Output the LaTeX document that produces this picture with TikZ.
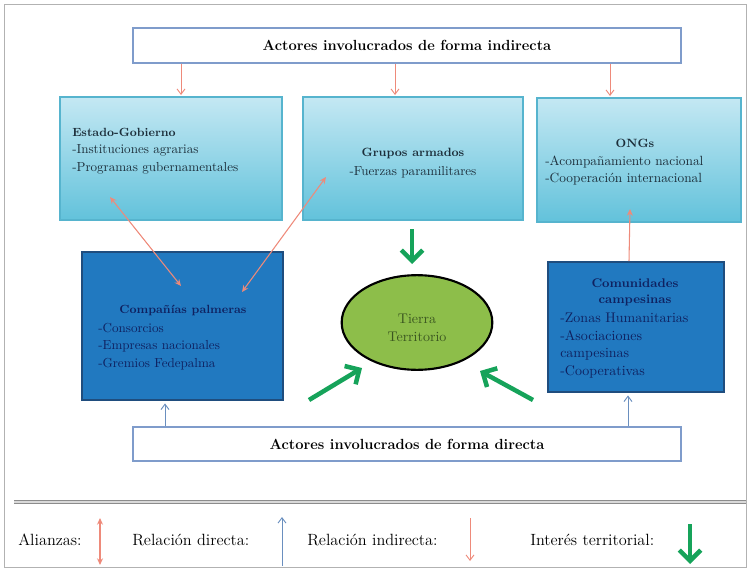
\documentclass[tikz,border=0pt]{standalone}
\usetikzlibrary{arrows.meta,shapes.geometric}
\definecolor{salmon}{HTML}{EE8A7A}
\definecolor{dirblue}{HTML}{6A8FBF}
\definecolor{tgreen}{HTML}{16A35A}
\definecolor{lbtop}{HTML}{C4E8F3}
\definecolor{lbbot}{HTML}{62C2DB}
\definecolor{lbline}{HTML}{56B4CE}
\definecolor{dbfill}{HTML}{2179C0}
\definecolor{dbline}{HTML}{1F4D7E}
\definecolor{navy}{HTML}{0F2160}
\definecolor{dteal}{HTML}{1C2E3A}
\definecolor{olive}{HTML}{8DBE4A}
\definecolor{dolive}{HTML}{3A5520}
\definecolor{topline}{HTML}{7F9CCB}
\begin{document}
\begin{tikzpicture}[x=0.75pt,y=-0.75pt,
  frame/.style={draw=black!30,line width=0.6pt},
  actorbox/.style={draw=topline,line width=1pt,fill=white,font=\bfseries\fontsize{11}{13}\selectfont},
  lightbox/.style={draw=lbline,line width=1pt,top color=lbtop,bottom color=lbbot},
  darkbox/.style={draw=dbline,line width=1.2pt,fill=dbfill},
  ltext/.style={text=dteal,font=\fontsize{9.8}{13}\selectfont,inner sep=0pt},
  dtext/.style={text=navy,font=\fontsize{9.8}{13.2}\selectfont,inner sep=0pt},
  indarrow/.style={draw=salmon,line width=0.7pt,-{Straight Barb[length=4pt,width=6pt]}},
  alliance/.style={draw=salmon,line width=0.8pt,{Stealth[length=5pt,width=4.5pt]}-{Stealth[length=5pt,width=4.5pt]}},
  allianceone/.style={draw=salmon,line width=0.8pt,-{Stealth[length=5pt,width=4.5pt]}},
  dirarrow/.style={draw=dirblue,line width=0.7pt,-{Straight Barb[length=4pt,width=6pt]}},
  terrarrow/.style={draw=tgreen,line width=3.4pt,-{Straight Barb[length=8pt,width=16pt]}},
  legtext/.style={font=\fontsize{12.2}{14}\selectfont,anchor=west,inner sep=0pt}
]
\useasboundingbox (0,0) rectangle (750,571);
\draw[frame] (4,4) rectangle (746,567);

% top and bottom actor boxes
\node[actorbox,minimum width=411pt,minimum height=26.25pt] (ind) at (407,45.5) {Actores involucrados de forma indirecta};
\node[actorbox,minimum width=411pt,minimum height=25.5pt] (dir) at (407,444) {Actores involucrados de forma directa};

% light blue boxes
\node[lightbox,minimum width=166.5pt,minimum height=92.25pt] (est) at (171,158.5) {};
\node[lightbox,minimum width=165pt,minimum height=92.25pt] (gru) at (413,158.5) {};
\node[lightbox,minimum width=153pt,minimum height=93pt] (ong) at (639,160) {};

% dark blue boxes
\node[darkbox,minimum width=150.75pt,minimum height=111pt] (pal) at (182.5,326) {};
\node[darkbox,minimum width=132pt,minimum height=97.5pt] (com) at (636,327) {};

% ellipse
\node[ellipse,draw=black,line width=1.6pt,fill=olive,minimum width=113pt,minimum height=71pt] (tie) at (417,322.5) {};
\node[text=dolive,font=\fontsize{10.5}{13.5}\selectfont,align=center,inner sep=0pt] (tieT) at (417,327.5) {Tierra\\Territorio};

% texts
\node[ltext,anchor=west,align=left,font=\fontsize{9.8}{13}\selectfont] (estT) at (72,151) {{\bfseries\fontsize{8.9}{13}\selectfont Estado-Gobierno}\\-Instituciones agrarias\\-Programas gubernamentales};
\node[ltext,anchor=center,align=center,font=\fontsize{9.8}{14.2}\selectfont] (gruT) at (413,163) {{\bfseries\fontsize{9}{14}\selectfont Grupos armados}\\-Fuerzas paramilitares};
\node[ltext,anchor=center,font=\bfseries\fontsize{9}{13}\selectfont] (ongH) at (635,143) {ONGs};
\node[ltext,anchor=west,align=left,font=\fontsize{10}{12.5}\selectfont] (ongT) at (545,170.5) {-Acompañamiento nacional\\-Cooperación internacional};
\node[dtext,anchor=center,font=\bfseries\fontsize{8.9}{12}\selectfont] (palH) at (183,310) {Compañías palmeras};
\node[dtext,anchor=west,align=left] (palT) at (98,346.5) {-Consorcios\\-Empresas nacionales\\-Gremios Fedepalma};
\node[dtext,anchor=center,align=center,font=\bfseries\fontsize{9.4}{12.5}\selectfont] (comH) at (635,292.5) {Comunidades\\campesinas};
\node[dtext,anchor=west,align=left,font=\fontsize{10.5}{13.2}\selectfont] (comT) at (560,345.5) {-Zonas Humanitarias\\-Asociaciones\\campesinas\\-Cooperativas};

% indirect relation arrows
\coordinate (c1) at (181,0);
\coordinate (c2) at (395,0);
\coordinate (c3) at (610,0);
\draw[indarrow] (ind.south -| c1) -- ([yshift=1pt]est.north -| c1);
\draw[indarrow] (ind.south -| c2) -- ([yshift=1pt]gru.north -| c2);
\draw[indarrow] (ind.south -| c3) -- ([yshift=1pt]ong.north -| c3);

% direct relation arrows
\coordinate (d1) at (165,0);
\coordinate (d2) at (628,0);
\draw[dirarrow] (dir.north -| d1) -- ([yshift=-2pt]pal.south -| d1);
\draw[dirarrow] (dir.north -| d2) -- ([yshift=-2pt]com.south -| d2);

% alliances
\coordinate (a1) at (110,197);
\coordinate (a2) at (181,286);
\coordinate (a3) at (242,292);
\coordinate (a4) at (326,177);
\coordinate (a5) at (630,209);
\coordinate (a6) at (629,0);
\draw[alliance] (a1) -- (a2);
\draw[alliance] (a3) -- (a4);
\draw[allianceone] (com.north -| a6) -- (a5);

% territorial interest
\coordinate (g1) at (412,229);
\coordinate (g1e) at (412,264);
\coordinate (g2) at (309,400);
\coordinate (g2e) at (362,368);
\coordinate (g3) at (533,400);
\coordinate (g3e) at (480,371);
\draw[terrarrow] (g1) -- (g1e);
\draw[terrarrow] (g2) -- (g2e);
\draw[terrarrow] (g3) -- (g3e);

% legend separator
\draw[black!45,line width=0.8pt,double=black!15,double distance=0.9pt] (14,502) -- (746,502);

% legend
\node[legtext] (l1) at (18,540) {Alianzas:};
\coordinate (la1) at (100,518);
\coordinate (la2) at (100,565);
\draw[alliance] (la1) -- (la2);
\node[legtext] (l2) at (132,540) {Relación directa:};
\coordinate (lb1) at (282,566);
\coordinate (lb2) at (282,517);
\draw[dirarrow] (lb1) -- (lb2);
\node[legtext] (l3) at (307,540) {Relación indirecta:};
\coordinate (lc1) at (470,518);
\coordinate (lc2) at (470,561);
\draw[indarrow] (lc1) -- (lc2);
\node[legtext] (l4) at (530,540) {Interés territorial:};
\coordinate (ld1) at (690,524);
\coordinate (ld2) at (690,564);
\draw[terrarrow] (ld1) -- (ld2);
\end{tikzpicture}
\end{document}
